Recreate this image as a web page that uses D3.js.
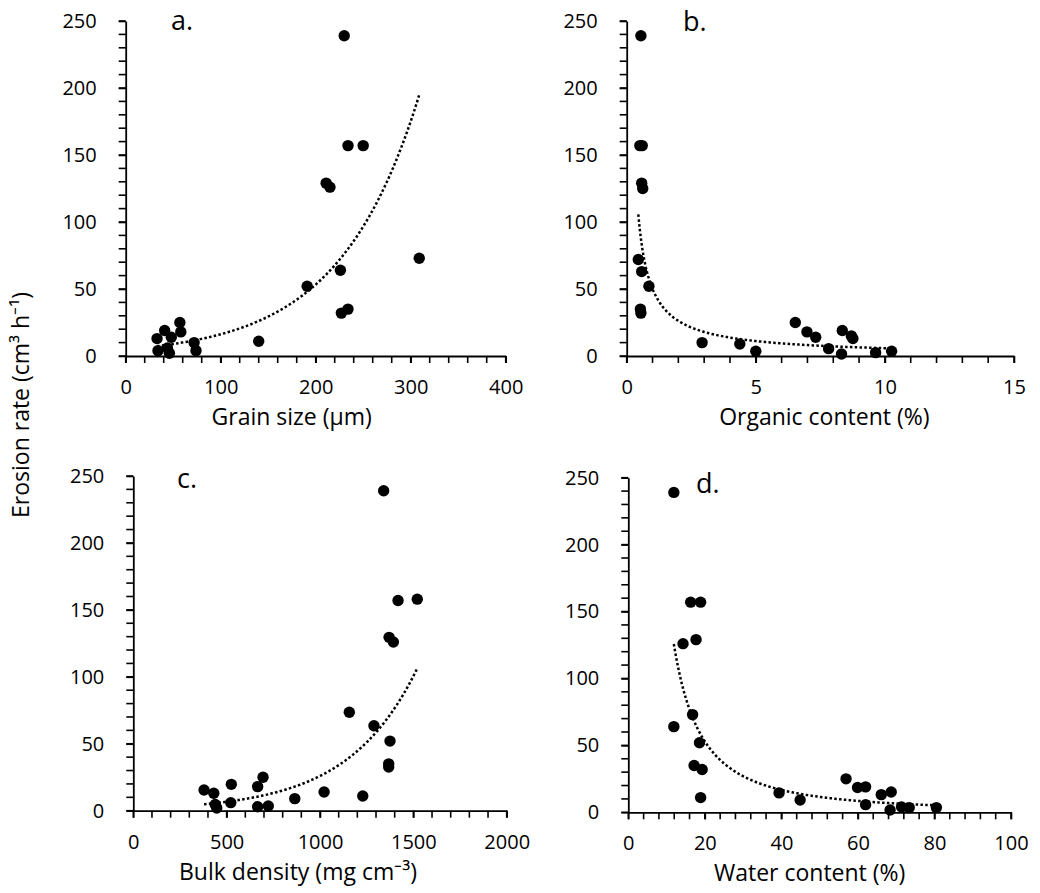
<!DOCTYPE html>
<html><head><meta charset="utf-8">
<script src="https://cdn.jsdelivr.net/npm/d3@7"></script>
<style>
html,body{margin:0;padding:0;background:#fff;}
svg text{font-family:"Open Sans",sans-serif;fill:#000;}
</style></head>
<body>
<svg id="chart" width="1040" height="893"></svg>
<script>
// ---- data ----
const grainSize = [230,234,250,211,215,309,226,191,234,227,140,57,58,41,33,48,34,44,46,72,74];
const erosionA  = [239,157,157,129,126,73,64,52,35,32,11,25,18,19,13,14,4,6,2,10,4];

const organic  = [0.55,0.51,0.60,0.58,0.62,0.45,0.58,0.86,0.53,0.55,2.92,4.38,5.0,6.53,6.98,7.32,7.82,8.32,8.35,8.70,8.76,9.64,10.26];
const erosionB = [239,157,157,129,125,72,63,52,35,32,10,9,3.5,25,18,14,5.5,1.5,19,15,13,2.5,3.5];

const bulkDensity = [1341,1418,1521,1370,1393,1157,1289,1375,1368,1368,1229,1022,865,695,666,525,379,431,522,439,447,666,723];
const erosionC    = [239,157,158,129.5,126,73.5,63.5,52,35,32.6,11,14,9,25,18,19.7,15.5,13,6,4.7,2,3,3.5];

const waterContent = [11.9,16.3,18.9,17.7,14.3,16.8,11.9,18.6,17.2,19.3,18.9,39.4,44.9,56.9,59.9,62.0,62.0,66.1,68.7,68.4,71.4,73.4,80.5];
const erosionD     = [239,157,157,129,126,73,64,52,35,32,11,14.5,9.2,25,18.5,19,5.7,13.2,15.2,1.7,4,3.5,3.5];

const yTicks = [0,50,100,150,200,250];
const xTicksA = [0,100,200,300,400];
const xTicksB = [0,5,10,15];
const xTicksC = [0,500,1000,1500,2000];
const xTicksD = [0,20,40,60,80,100];

const panels = [
  {label:"a.", xs:grainSize, ys:erosionA, xTicks:xTicksA, minorStep:20, fit:"exp",
   title:"Grain size  (µm)", left:125.7, right:505.7, top:21, bottom:356, lx:171, ly:30, tdx:-24},
  {label:"b.", xs:organic, ys:erosionB, xTicks:xTicksB, minorStep:1, fit:"pow",
   title:"Organic content (%)", left:626.7, right:1014, top:21, bottom:356, lx:683, ly:31, tdx:4},
  {label:"c.", xs:bulkDensity, ys:erosionC, xTicks:xTicksC, minorStep:100, fit:"exp",
   title:"Bulk density (mg cm⁻³)", left:133.3, right:506.7, top:476, bottom:810.7, lx:177, ly:488, tdx:-22},
  {label:"d.", xs:waterContent, ys:erosionD, xTicks:xTicksD, minorStep:4, fit:"pow",
   title:"Water content (%)", left:628.3, right:1011, top:477.7, bottom:812.3, lx:696, ly:493, tdx:-10}
];

const svg = d3.select("#chart");

function fitCurve(xs, ys, type){
  // Least-squares on log scale (as spreadsheet trendlines do)
  const X = xs.map(v => type === "pow" ? Math.log(v) : v);
  const Y = ys.map(v => Math.log(v));
  const mx = d3.mean(X), my = d3.mean(Y);
  let sxy = 0, sxx = 0;
  X.forEach((x,i) => { sxy += (x-mx)*(Y[i]-my); sxx += (x-mx)*(x-mx); });
  const b = sxy/sxx, a = Math.exp(my - b*mx);
  return type === "pow" ? (x => a*Math.pow(x,b)) : (x => a*Math.exp(b*x));
}

panels.forEach(p => {
  const xMax = p.xTicks[p.xTicks.length-1];
  const x = d3.scaleLinear().domain([0,xMax]).range([p.left,p.right]);
  const y = d3.scaleLinear().domain([0,250]).range([p.bottom,p.top]);
  const g = svg.append("g");

  // minor + major tick marks
  const xMinor = d3.range(0, xMax + 1e-9, p.minorStep);
  const yMinor = d3.range(0, 250 + 1e-9, 10);
  g.append("g").selectAll("line").data(xMinor).enter().append("line")
    .attr("x1",d=>x(d)).attr("x2",d=>x(d)).attr("y1",p.bottom).attr("y2",p.bottom+7)
    .attr("stroke","#000").attr("stroke-width",1.6);
  g.append("g").selectAll("line").data(yMinor).enter().append("line")
    .attr("y1",d=>y(d)).attr("y2",d=>y(d)).attr("x1",p.left-7).attr("x2",p.left)
    .attr("stroke","#000").attr("stroke-width",1.6);

  // axes with major labels
  const gxl = g.append("g").attr("transform",`translate(0,${p.bottom})`)
    .call(d3.axisBottom(x).tickValues(p.xTicks).tickSize(7).tickSizeOuter(0)
      .tickPadding(17).tickFormat(d3.format("d")));
  const gyl = g.append("g").attr("transform",`translate(${p.left},0)`)
    .call(d3.axisLeft(y).tickValues(yTicks).tickSize(7).tickSizeOuter(0)
      .tickPadding(22).tickFormat(d3.format("d")));
  [gxl,gyl].forEach(a => {
    a.select(".domain").attr("stroke","#000").attr("stroke-width",1.8);
    a.selectAll(".tick line").attr("stroke","#000").attr("stroke-width",1.6);
    a.selectAll(".tick text").attr("font-family","Open Sans").attr("font-size",20).attr("fill","#000");
  });

  // trendline
  const f = fitCurve(p.xs, p.ys, p.fit);
  const [x0,x1] = d3.extent(p.xs);
  const pts = d3.range(0,201).map(i => { const xv = x0 + (x1-x0)*i/200; return [xv, f(xv)]; });
  g.append("path").datum(pts)
    .attr("d", d3.line().x(d=>x(d[0])).y(d=>y(d[1])))
    .attr("fill","none").attr("stroke","#000").attr("stroke-width",2.5)
    .attr("stroke-dasharray","2.5 2.3");

  // points
  g.selectAll("circle.pt").data(p.xs.map((v,i)=>[v,p.ys[i]])).enter().append("circle")
    .attr("class","pt").attr("cx",d=>x(d[0])).attr("cy",d=>y(d[1])).attr("r",5.7).attr("fill","#000");

  // panel label
  g.append("text").attr("x",p.lx).attr("y",p.ly).attr("font-size",27).text(p.label);
  // x title
  g.append("text").attr("x",(p.left+p.right)/2 + p.tdx).attr("y",p.bottom+69)
    .attr("text-anchor","middle").attr("font-size",23).text(p.title);
});

// shared y title
svg.append("text").attr("transform","translate(29,405) rotate(-90)")
  .attr("text-anchor","middle").attr("font-size",23)
  .text("Erosion rate (cm³ h⁻¹)");
</script>
</body></html>
